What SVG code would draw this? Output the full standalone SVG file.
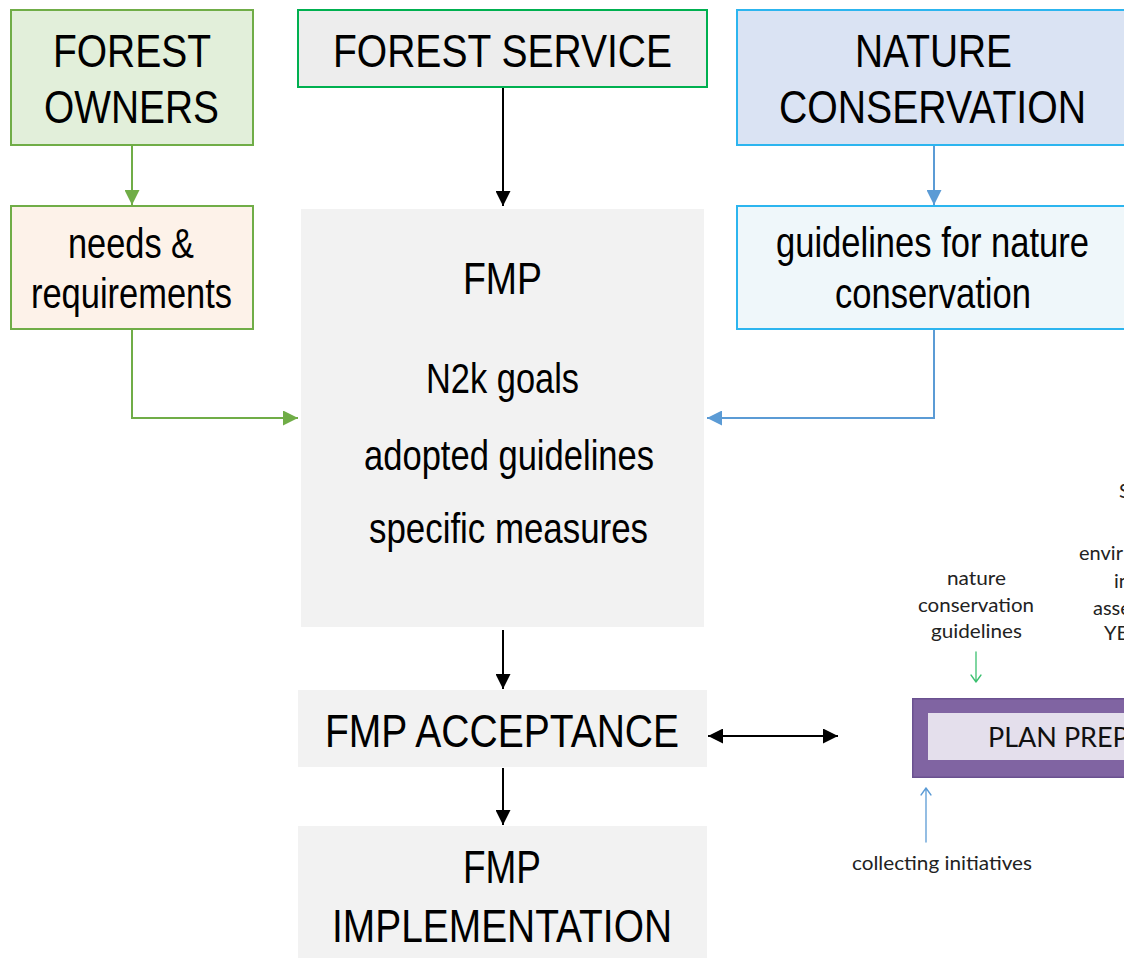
<svg xmlns="http://www.w3.org/2000/svg" width="1124" height="958" viewBox="0 0 1124 958">
<style>
.t{font-family:"Liberation Sans",Arial,sans-serif;fill:#000;text-anchor:middle}
.b{font-size:47px}
.m{font-size:42px}
.s{font-family:Lato,"Open Sans",sans-serif;font-size:20px;fill:#222;text-anchor:middle}
.f{font-family:Lato,"Open Sans",sans-serif;font-size:20px;fill:#222}
.bl{fill:none;stroke:#2cb5ef;stroke-width:2}
</style>
<defs>
<marker id="hk2" viewBox="0 0 10 10" refX="10" refY="5" markerWidth="7.5" markerHeight="7.5" orient="auto-start-reverse"><path d="M0,0 L10,5 L0,10 z" fill="#000"/></marker>
<marker id="hg" viewBox="0 0 10 10" refX="10" refY="5" markerWidth="7.5" markerHeight="7.5" orient="auto"><path d="M0,0 L10,5 L0,10 z" fill="#70ad47"/></marker>
<marker id="hb" viewBox="0 0 10 10" refX="10" refY="5" markerWidth="7.5" markerHeight="7.5" orient="auto"><path d="M0,0 L10,5 L0,10 z" fill="#5b9bd5"/></marker>
</defs>
<rect width="1124" height="958" fill="#fff"/>

<g id="forest-owners">
<rect x="11" y="10" width="242" height="135" fill="#e2efda" stroke="#70ad47" stroke-width="2"/>
<text class="t b" x="132" y="67" textLength="158" lengthAdjust="spacingAndGlyphs">FOREST</text>
<text class="t b" x="131.5" y="123" textLength="175" lengthAdjust="spacingAndGlyphs">OWNERS</text>
</g>
<g id="forest-service">
<rect x="298" y="10" width="409" height="77" fill="#ededed" stroke="#00b050" stroke-width="2"/>
<text class="t b" x="502.5" y="67" textLength="339" lengthAdjust="spacingAndGlyphs">FOREST SERVICE</text>
</g>
<g id="nature-conservation">
<rect x="737" y="10" width="387" height="135" fill="#dae3f3"/>
<path class="bl" d="M1124,10 H737 V145 H1124"/>
<text class="t b" x="933.5" y="67" textLength="157" lengthAdjust="spacingAndGlyphs">NATURE</text>
<text class="t b" x="932.5" y="123" textLength="307" lengthAdjust="spacingAndGlyphs">CONSERVATION</text>
</g>
<g id="needs">
<rect x="11" y="206" width="242" height="123" fill="#fdf2e9" stroke="#70ad47" stroke-width="2"/>
<text class="t m" x="131" y="258" textLength="126" lengthAdjust="spacingAndGlyphs">needs &amp;</text>
<text class="t m" x="131.5" y="308" textLength="201" lengthAdjust="spacingAndGlyphs">requirements</text>
</g>
<g id="guidelines">
<rect x="737" y="206" width="387" height="123" fill="#eff7fa"/>
<path class="bl" d="M1124,206 H737 V329 H1124"/>
<text class="t m" x="932.5" y="257" textLength="313" lengthAdjust="spacingAndGlyphs">guidelines for nature</text>
<text class="t m" x="933" y="308" textLength="196" lengthAdjust="spacingAndGlyphs">conservation</text>
</g>
<g id="fmp">
<rect x="301" y="209" width="403" height="418" fill="#f2f2f2"/>
<text class="t" style="font-size:45px" x="502.5" y="294" textLength="79" lengthAdjust="spacingAndGlyphs">FMP</text>
<text class="t m" x="502.5" y="393" textLength="153" lengthAdjust="spacingAndGlyphs">N2k goals</text>
<text class="t m" x="509" y="470" textLength="290" lengthAdjust="spacingAndGlyphs">adopted guidelines</text>
<text class="t m" x="508.5" y="543" textLength="279" lengthAdjust="spacingAndGlyphs">specific measures</text>
</g>
<g id="fmp-acceptance">
<rect x="298" y="690" width="409" height="77" fill="#f2f2f2"/>
<text class="t b" x="502" y="747" textLength="354" lengthAdjust="spacingAndGlyphs">FMP ACCEPTANCE</text>
</g>
<g id="fmp-implementation">
<rect x="298" y="826" width="409" height="132" fill="#f2f2f2"/>
<text class="t b" x="502" y="883" textLength="78" lengthAdjust="spacingAndGlyphs">FMP</text>
<text class="t b" x="502" y="942" textLength="340" lengthAdjust="spacingAndGlyphs">IMPLEMENTATION</text>
</g>

<g id="plan-prep">
<rect x="912" y="698" width="212" height="80" fill="#8064a2"/>
<path d="M1124,698.75 H912.75 V777.25 H1124" fill="none" stroke="#6a5190" stroke-width="1.5"/>
<rect x="928" y="713" width="196" height="47" fill="#e4dfec"/>
<text class="f" style="font-size:27px;fill:#111" x="988" y="747">PLAN PREP</text>
</g>
<g id="labels">
<text class="s" x="976.5" y="585" textLength="59" lengthAdjust="spacingAndGlyphs">nature</text>
<text class="s" x="976" y="612" textLength="116" lengthAdjust="spacingAndGlyphs">conservation</text>
<text class="s" x="976.5" y="638" textLength="91" lengthAdjust="spacingAndGlyphs">guidelines</text>
<text class="s" x="942" y="870" textLength="180" lengthAdjust="spacingAndGlyphs">collecting initiatives</text>
<text class="f" x="1079" y="560">envir</text>
<text class="f" x="1114" y="588">in</text>
<text class="f" x="1093" y="615">asse</text>
<text class="f" x="1104" y="640">YE</text>
<text class="f" x="1119" y="498">S</text>
</g>

<g id="connectors" fill="none" stroke-width="2">
<path d="M132,146 V205" stroke="#70ad47" marker-end="url(#hg)"/>
<path d="M934,146 V205" stroke="#5b9bd5" marker-end="url(#hb)"/>
<path d="M503,88 V206" stroke="#000" marker-end="url(#hk2)"/>
<path d="M132,330 V418 H298" stroke="#70ad47" marker-end="url(#hg)"/>
<path d="M934,330 V418 H707" stroke="#5b9bd5" marker-end="url(#hb)"/>
<path d="M503,630 V689" stroke="#000" marker-end="url(#hk2)"/>
<path d="M503,768 V825" stroke="#000" marker-end="url(#hk2)"/>
<path d="M708,736 H838" stroke="#000" marker-start="url(#hk2)" marker-end="url(#hk2)"/>
<g stroke-width="1.3" stroke-linecap="round" stroke-linejoin="round">
<path d="M976,652 V682 M971,675 L976,682 L981,675" stroke="#3cc070"/>
<path d="M926,842 V788 M921,795 L926,788 L931,795" stroke="#5b9bd5"/>
</g>
</g>
</svg>
